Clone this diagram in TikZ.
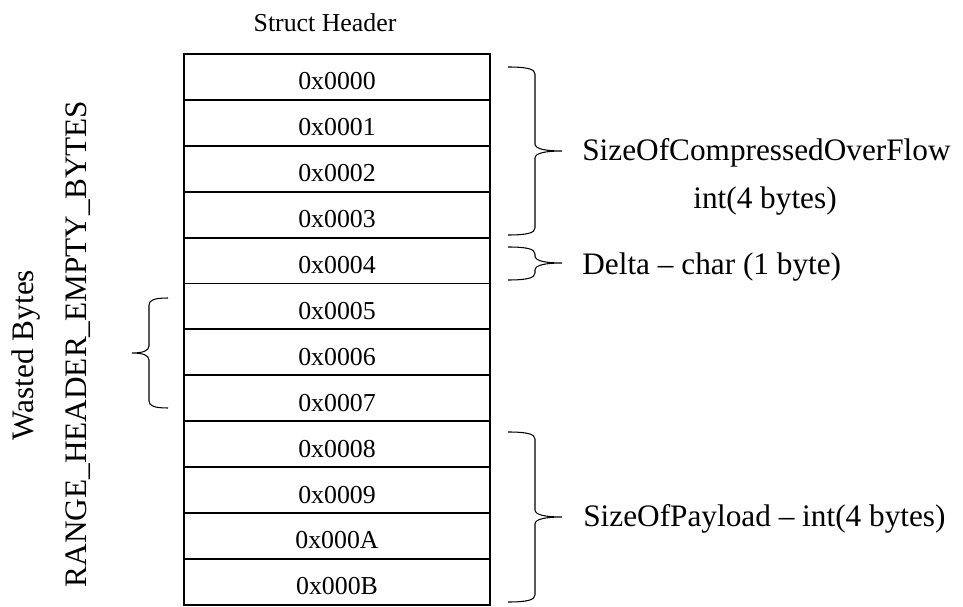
\documentclass[tikz,border=0pt]{standalone}
\usepackage{fontspec}
\setmainfont{Liberation Serif}
\usepackage{tikz}
\newcommand{\wordbrace}[6]{% tip x, stem x, point x, top y, middle y, bottom y
\draw [brace line] (#1,#4) .. controls ({#1+0.7*(#2-#1)},#4) and (#2,#4+2) .. (#2,#4+7)
 -- (#2,#5-7) .. controls (#2,#5-2) and ({#2+0.4*(#3-#2)},#5) .. (#3,#5)
 .. controls ({#2+0.4*(#3-#2)},#5) and (#2,#5+2) .. (#2,#5+7)
 -- (#2,#6-7) .. controls (#2,#6-2) and ({#1+0.7*(#2-#1)},#6) .. (#1,#6);}
\tikzset{
cell/.style={draw,line width=1.1pt,minimum width=6.12cm,minimum height=0.918cm,inner sep=0pt,text height=0.52cm,text depth=0pt,font=\fontsize{14.7}{17}\selectfont},
side/.style={inner sep=0pt,font=\fontsize{17.8}{21}\selectfont},
brace line/.style={line width=0.6pt}
}
\begin{document}
\begin{tikzpicture}[x=0.02cm,y=-0.02cm]
\useasboundingbox (0,0) rectangle (963,607);
\node [anchor=base,inner sep=0pt,font=\fontsize{14.7}{17}\selectfont] (H) at (325,32) {Struct Header};
 \node [cell] (R0) at (337,76.95) {0x0000};
 \node [cell] (R1) at (337,122.85) {0x0001};
 \node [cell] (R2) at (337,168.75) {0x0002};
 \node [cell] (R3) at (337,214.65) {0x0003};
 \node [cell] (R4) at (337,260.55) {0x0004};
 \node [cell] (R5) at (337,306.45) {0x0005};
 \node [cell] (R6) at (337,352.35) {0x0006};
 \node [cell] (R7) at (337,398.25) {0x0007};
 \node [cell] (R8) at (337,444.15) {0x0008};
 \node [cell] (R9) at (337,490.05) {0x0009};
 \node [cell] (R10) at (337,535.95) {0x000A};
 \node [cell] (R11) at (337,581.85) {0x000B};
\node [side,anchor=base west] (C1) at (582,161) {SizeOfCompressedOverFlow};
 \node [side,anchor=base] (C2) at (765,209) {int(4 bytes)};
 \node [side,anchor=base west] (D) at (582,275) {Delta -- char (1 byte)};
 \node [side,anchor=base west] (P) at (583,526) {SizeOfPayload -- int(4 bytes)};
\node [side,anchor=base,rotate=90] (W) at (33,355) {Wasted Bytes};
 \node [side,anchor=base,rotate=90] (E) at (86,344) {RANGE\_HEADER\_EMPTY\_BYTES};
\wordbrace{508}{535}{562}{67}{151}{235}
\wordbrace{508}{535}{562}{247}{263}{280}
\wordbrace{508}{535}{562}{432}{517}{602}
\wordbrace{168}{149}{132}{298}{353}{408}
 \end{tikzpicture}
\end{document}
